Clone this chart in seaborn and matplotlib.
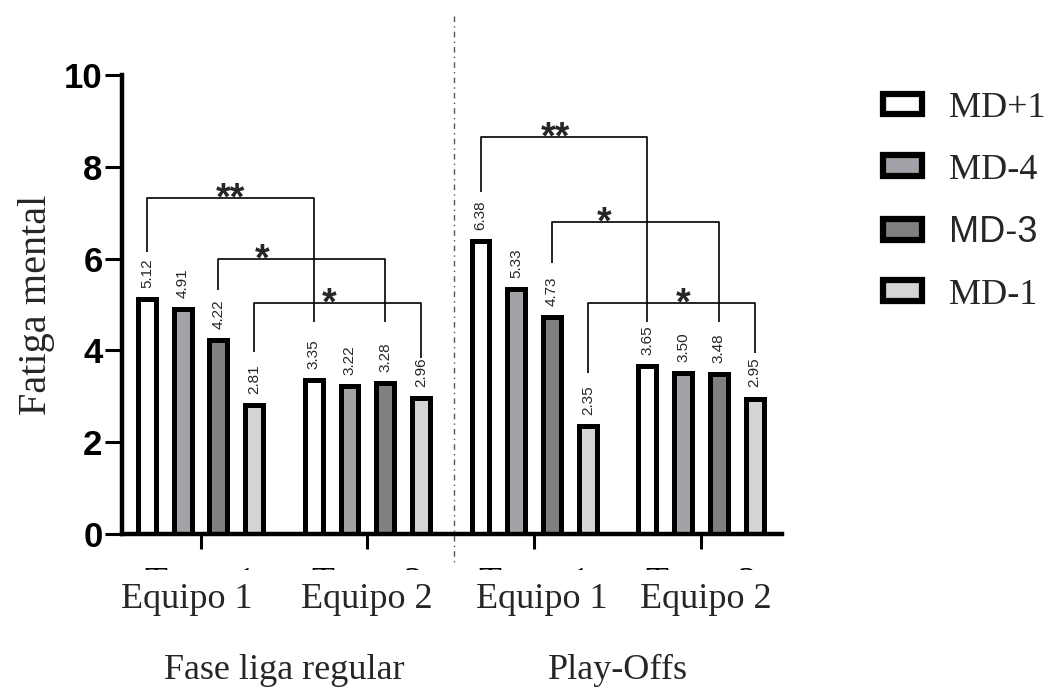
import numpy as np
import pandas as pd
import matplotlib
matplotlib.use("Agg")
import matplotlib.pyplot as plt
from matplotlib.patches import Patch, Rectangle
from matplotlib.lines import Line2D
import matplotlib.transforms as mtransforms
import seaborn as sns

# ---- data -------------------------------------------------------------
phases = ["Fase liga regular", "Play-Offs"]
teams = ["Equipo 1", "Equipo 2"]
team_ticks = ["Team 1", "Team 2"]
sessions = ["MD+1", "MD-4", "MD-3", "MD-1"]

liga_equipo1 = [5.12, 4.91, 4.22, 2.81]
liga_equipo2 = [3.35, 3.22, 3.28, 2.96]
playoff_equipo1 = [6.38, 5.33, 4.73, 2.35]
playoff_equipo2 = [3.65, 3.50, 3.48, 2.95]

# significance brackets per phase:
# (session of team 1 bar, session of team 2 bar, left foot, top, right foot, stars, star position)
liga_brackets = [
    (0, 0, 6.14, 7.32, 4.62, "**", 0.50),
    (2, 2, 5.32, 5.99, 4.62, "*", 0.26),
    (3, 3, 3.97, 5.03, 3.83, "*", 0.45),
]
playoff_brackets = [
    (0, 0, 7.45, 8.65, 4.62, "**", 0.45),
    (2, 2, 5.90, 6.80, 4.62, "*", 0.31),
    (3, 3, 3.51, 5.03, 3.94, "*", 0.57),
]

colors = ["#ffffff", "#a3a2a8", "#808080", "#d4d4d4"]

# horizontal nudges (pixels) of the Spanish team captions
caption_shift_px = [-14, -1, 8, 5]

# ---- tidy frame -------------------------------------------------------
groups = [f"{p} | {t}" for p in phases for t in teams]
values = [liga_equipo1, liga_equipo2, playoff_equipo1, playoff_equipo2]
rows = []
for g, vals in zip(groups, values):
    for s, v in zip(sessions, vals):
        rows.append({"grupo": g, "sesion": s, "valor": v})
df = pd.DataFrame(rows)

SERIF = "Liberation Serif"
SANS = "Liberation Sans"

sns.set_theme(style="ticks")
plt.rcParams["font.family"] = [SANS, "DejaVu Sans"]

W, H = 1052, 693
fig = plt.figure(figsize=(W / 100, H / 100), dpi=100)
ax = fig.add_axes([122 / W, (H - 534) / H, (781.7 - 122) / W, (534 - 75) / H])

sns.barplot(
    data=df, x="grupo", y="valor", hue="sesion",
    order=groups, hue_order=sessions, palette=colors,
    width=0.857, gap=0.5, edgecolor="black", linewidth=3.6,
    legend=False, ax=ax,
)

ax.set_xlim(-0.4706, 3.484)
ax.set_ylim(0, 10)
ax.set_yticks(np.arange(0, 11, 2))
ax.set_yticklabels([str(v) for v in range(0, 11, 2)],
                   fontfamily=SANS, fontweight="bold", fontsize=25)
ax.set_xticks(range(len(groups)))
ax.set_xticklabels(team_ticks * 2, fontfamily=SERIF, fontsize=27)
ax.set_xlabel("")
ax.set_ylabel("Fatiga mental", fontfamily=SERIF, fontsize=29)
ax.yaxis.set_label_coords(-0.102, 0.5)

for side in ["top", "right"]:
    ax.spines[side].set_visible(False)
for side in ["left", "bottom"]:
    ax.spines[side].set_linewidth(3.2)
    ax.spines[side].set_color("black")
ax.tick_params(axis="y", length=12, width=2.2, pad=2, colors="black")
ax.tick_params(axis="x", length=11, width=2.2, pad=12.5, colors="black")

# value labels above bars
for cont in ax.containers:
    ax.bar_label(cont, fmt="%.2f", rotation=90, padding=8,
                 fontsize=11, fontfamily=SANS)

# bar centers, per hue level, per group
centers = [[p.get_x() + p.get_width() / 2 for p in cont] for cont in ax.containers]

for phase_idx, brackets in enumerate([liga_brackets, playoff_brackets]):
    g1 = phase_idx * 2
    g2 = phase_idx * 2 + 1
    for s1, s2, yl, yt, yr, stars, frac in brackets:
        x1 = centers[s1][g1]
        x2 = centers[s2][g2]
        ax.plot([x1, x1, x2, x2], [yl, yt, yt, yr], color="black",
                lw=1.2, solid_capstyle="butt", clip_on=False, zorder=5)
        ax.annotate(stars, xy=(x1 + frac * (x2 - x1), yt),
                    xytext=(0, -8), textcoords="offset points",
                    ha="center", va="baseline", fontsize=27, fontweight="bold",
                    fontfamily=SANS, zorder=6, annotation_clip=False)

# hide the lower part of the English tick labels
fig.add_artist(Rectangle((0, 0), 1, (H - 570) / H, transform=fig.transFigure,
                         facecolor="white", edgecolor="none", zorder=1))

# team and phase captions under the axis
trans = mtransforms.blended_transform_factory(ax.transData, fig.transFigure)
for gi in range(len(groups)):
    off = mtransforms.offset_copy(trans, fig=fig, x=caption_shift_px[gi], units="dots")
    fig.text(gi, (H - 608) / H, teams[gi % 2], transform=off, fontfamily=SERIF,
             fontsize=26, ha="center", va="baseline", zorder=3)
for pi, ph in enumerate(phases):
    fig.text(pi * 2 + 0.5, (H - 679) / H, ph, transform=trans,
             fontfamily=SERIF, fontsize=26, ha="center", va="baseline", zorder=3)

# dash-dot separator between phases
sep = Line2D([1.52, 1.52], [(H - 16) / H, (H - 563) / H], transform=trans,
             color="#555555", lw=1.0, linestyle=(0, (4, 3, 1, 3)), zorder=4)
fig.add_artist(sep)

# legend
handles = [Patch(facecolor=c, edgecolor="black", linewidth=4.5) for c in colors]
leg = fig.legend(handles, sessions, loc="upper left",
                 bbox_to_anchor=(883 / W, (H - 92) / H),
                 frameon=False, fontsize=26, handlelength=1.08, handleheight=0.5,
                 handletextpad=0.75, labelspacing=0.79, borderpad=0, borderaxespad=0)
for i, txt in enumerate(leg.get_texts()):
    txt.set_fontfamily(SANS if sessions[i] == "MD-3" else SERIF)

fig.savefig("out.png", dpi=100)
